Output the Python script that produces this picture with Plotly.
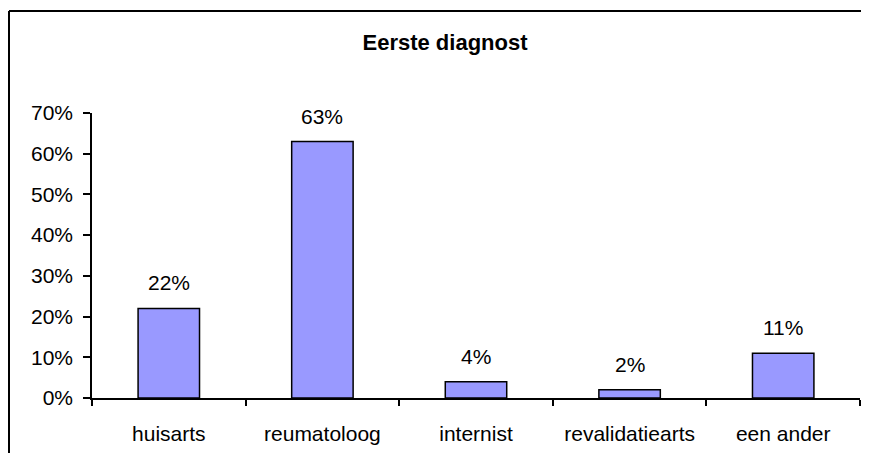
import plotly.graph_objects as go

categories = ["huisarts", "reumatoloog", "internist", "revalidatiearts", "een ander"]
values = [0.22, 0.63, 0.04, 0.02, 0.11]
labels = ["22%", "63%", "4%", "2%", "11%"]
title_text = "Eerste diagnost"

FONT = "Liberation Sans, Arial, sans-serif"
FS = 21

W, H = 853, 445           # fits inside the window with the page's 8px body margin
L, R, T, B = 84, 1, 105, 55
PW, PH = W - L - R, H - T - B

fig = go.Figure()
fig.add_trace(go.Bar(
    x=categories, y=values,
    marker=dict(color="#9999FF", line=dict(color="black", width=1.5)),
    width=0.4,
))

for c, v, t in zip(categories, values, labels):
    fig.add_annotation(x=c, y=v, text=t, showarrow=False, yanchor="bottom",
                       yshift=12, font=dict(family=FONT, size=FS, color="black"))

fig.update_layout(
    width=W, height=H,
    margin=dict(l=L, r=R, t=T, b=B),
    paper_bgcolor="white", plot_bgcolor="white",
    showlegend=False,
    title=dict(text="<b>" + title_text + "</b>", x=437 / W, xanchor="center",
               y=1 - 34 / H, yanchor="middle",
               font=dict(family=FONT, size=22, color="black")),
    font=dict(family=FONT, size=FS, color="black"),
)
fig.update_yaxes(range=[0, 0.7], tickvals=[0, 0.1, 0.2, 0.3, 0.4, 0.5, 0.6, 0.7],
                 tickformat=".0%", showgrid=False, zeroline=False,
                 showline=True, linecolor="black", linewidth=1.5,
                 ticks="outside", ticklen=7, tickcolor="black", tickwidth=1.5,
                 ticklabelstandoff=6)
fig.update_xaxes(showgrid=False, showline=True, linecolor="black", linewidth=1.5,
                 ticks="outside", tickson="boundaries", ticklen=6, tickcolor="black",
                 tickwidth=1.5, ticklabelstandoff=16)

bx = (1 - L) / PW
by = (T + PH - 3) / PH
fig.add_shape(type="line", xref="paper", yref="paper",
              x0=bx, x1=bx, y0=-B / PH, y1=by,
              line=dict(color="black", width=2), layer="below")
fig.add_shape(type="line", xref="paper", yref="paper",
              x0=bx, x1=(W - L) / PW, y0=by, y1=by,
              line=dict(color="black", width=2), layer="below")

fig.write_html("out.html", config={"displayModeBar": False})
